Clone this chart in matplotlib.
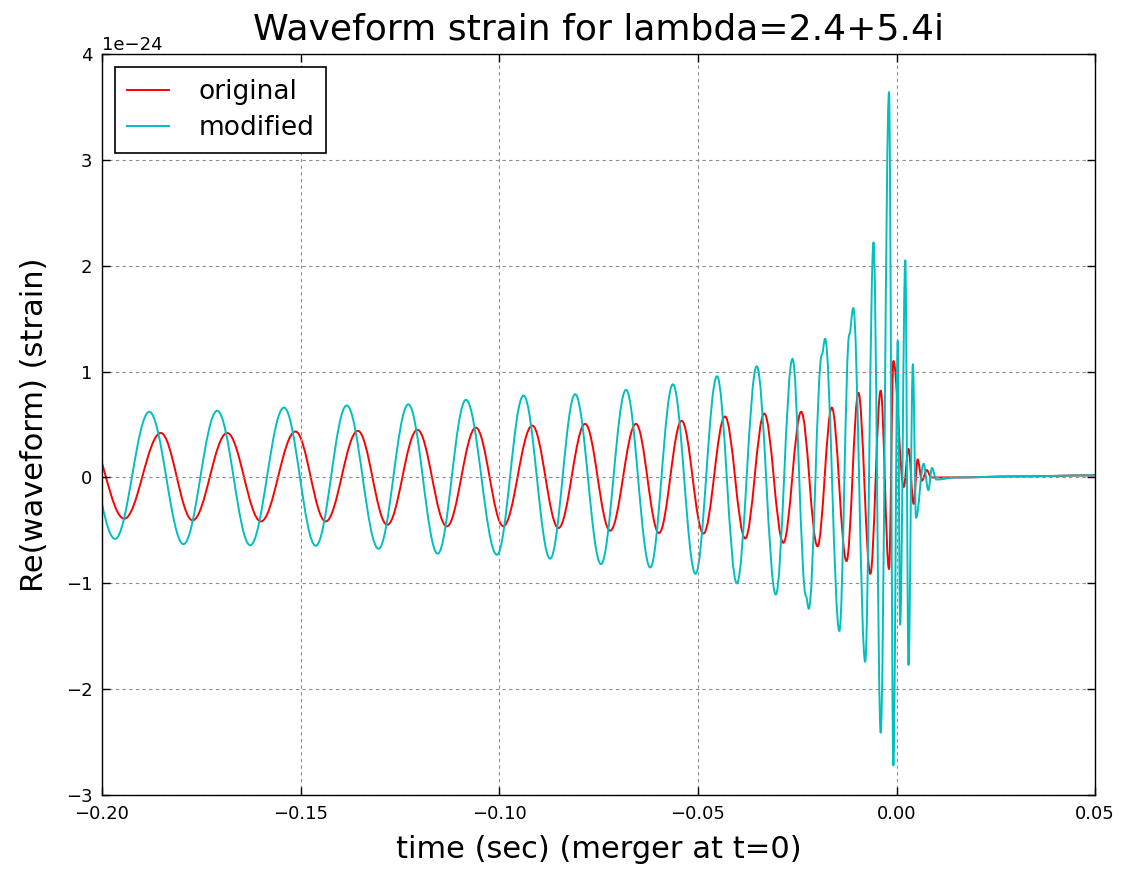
# -*- coding: UTF-8 -*-
"""
Waveform strain: original vs modified (lambda = 2.4+5.4i)
turning points digitised from the reference picture, strain in units of 1e-24
"""
import matplotlib
matplotlib.use('Agg')
import matplotlib.pyplot as plt
from matplotlib.path import Path
from matplotlib.patches import PathPatch
from matplotlib.lines import Line2D

title = 'Waveform strain for lambda=2.4+5.4i'
labels = ['original', 'modified']

# original waveform: turning points, time (s) and Re(h) (1e-24)
t_orig = [-0.2038, -0.1944, -0.1852, -0.1772, -0.1685, -0.1600, -0.1513, -0.1437,
          -0.1356, -0.1282, -0.1206, -0.1132, -0.1059, -0.0990, -0.0917, -0.0851,
          -0.0784, -0.0721, -0.0656, -0.0598, -0.0541, -0.0486, -0.0432, -0.0381,
          -0.0333, -0.0285, -0.0240, -0.0199, -0.0163, -0.0126, -0.0096, -0.0066,
          -0.0040, -0.0019, -0.0008, 0.0018, 0.0030, 0.0043, 0.0053, 0.0064,
          0.0076, 0.0087, 0.0150, 0.0300, 0.0500]
h_orig = [0.42, -0.39, 0.42, -0.405, 0.42, -0.415, 0.434, -0.415,
          0.44, -0.447, 0.45, -0.462, 0.47, -0.46, 0.49, -0.478,
          0.506, -0.503, 0.506, -0.525, 0.535, -0.53, 0.576, -0.576,
          0.604, -0.617, 0.62, -0.65, 0.66, -0.79, 0.80, -0.91,
          0.82, -0.865, 1.10, -0.09, 0.27, -0.25, 0.17, -0.03,
          0.07, 0.0, 0.0, 0.01, 0.02]

# modified waveform: turning points
t_mod = [-0.2060, -0.1967, -0.1881, -0.1795, -0.1710, -0.1627, -0.1542, -0.1462,
         -0.1384, -0.1304, -0.1229, -0.1155, -0.1084, -0.1006, -0.0939, -0.0872,
         -0.0809, -0.0744, -0.0681, -0.0620, -0.0563, -0.0506, -0.0452, -0.0402,
         -0.0352, -0.0304, -0.0262, -0.0228, -0.0221, -0.0188, -0.0180, -0.0144,
         -0.0119, -0.0109, -0.0079, -0.0058, -0.0040, -0.0019, -0.0008, 0.0003,
         0.0009, 0.0022, 0.0030, 0.0041, 0.0049, 0.0068, 0.0080, 0.0089,
         0.0100, 0.0150, 0.0300, 0.0500]
h_mod = [0.60, -0.58, 0.62, -0.63, 0.63, -0.64, 0.66, -0.645,
         0.68, -0.673, 0.69, -0.72, 0.733, -0.73, 0.774, -0.767,
         0.786, -0.818, 0.827, -0.85, 0.88, -0.91, 0.956, -1.0,
         1.05, -1.106, 1.12, -1.12, -1.24, 1.16, 1.31, -1.45,
         1.35, 1.60, -1.74, 2.22, -2.41, 3.64, -2.72, 1.29,
         -1.39, 2.05, -1.77, 1.07, -0.38, 0.13, -0.12, 0.09,
         -0.02, 0.0, 0.01, 0.02]

scale = 1e-24


def wave_path(t, h):
    # smooth line through the turning points (flat tangent at each one)
    a = 0.363
    verts = [(t[0], h[0] * scale)]
    codes = [Path.MOVETO]
    for i in range(1, len(t)):
        dt = t[i] - t[i - 1]
        verts += [(t[i - 1] + a * dt, h[i - 1] * scale),
                  (t[i] - a * dt, h[i] * scale),
                  (t[i], h[i] * scale)]
        codes += [Path.CURVE4] * 3
    return Path(verts, codes)


fig = plt.figure(figsize=(11.21, 8.69), dpi=100)
ax = fig.add_axes([0.091, 0.085, 0.886, 0.853])

lw = 1.4
ax.add_patch(PathPatch(wave_path(t_orig, h_orig), fill=False, edgecolor='r', lw=lw, joinstyle='round'))
ax.add_patch(PathPatch(wave_path(t_mod, h_mod), fill=False, edgecolor='c', lw=lw, joinstyle='round'))

ax.set_xlim(-0.2, 0.05)
ax.set_ylim(-3e-24, 4e-24)
ax.set_xticks([-0.2, -0.15, -0.1, -0.05, 0.0, 0.05])
ax.set_xticklabels(['\u22120.20', '\u22120.15', '\u22120.10', '\u22120.05', '0.00', '0.05'])
ax.set_yticks([-3e-24, -2e-24, -1e-24, 0, 1e-24, 2e-24, 3e-24, 4e-24])

# old (classic) look: dashed grey grid, ticks inside on all sides
ax.grid(True, color='0.55', linestyle=(0, (3, 3)), linewidth=0.8)
ax.tick_params(direction='in', top=True, right=True, length=6, width=1, labelsize=13, pad=7)
for s in ax.spines.values():
    s.set_linewidth(1.0)
ax.yaxis.get_offset_text().set_fontsize(13)

ax.set_title(title, fontsize=26, pad=10)
ax.set_xlabel('time (sec) (merger at t=0)', fontsize=22, labelpad=9)
ax.set_ylabel('Re(waveform) (strain)', fontsize=22, labelpad=12)

handles = [Line2D([], [], color='r', lw=lw), Line2D([], [], color='c', lw=lw)]
leg = ax.legend(handles, labels, loc='upper left', fontsize=19, fancybox=False, framealpha=1,
                edgecolor='k', handlelength=1.6, handletextpad=1.1,
                borderpad=0.45, labelspacing=0.38, borderaxespad=0.5)
leg.get_frame().set_linewidth(1.2)

fig.savefig('out.png', dpi=100, facecolor='white')
